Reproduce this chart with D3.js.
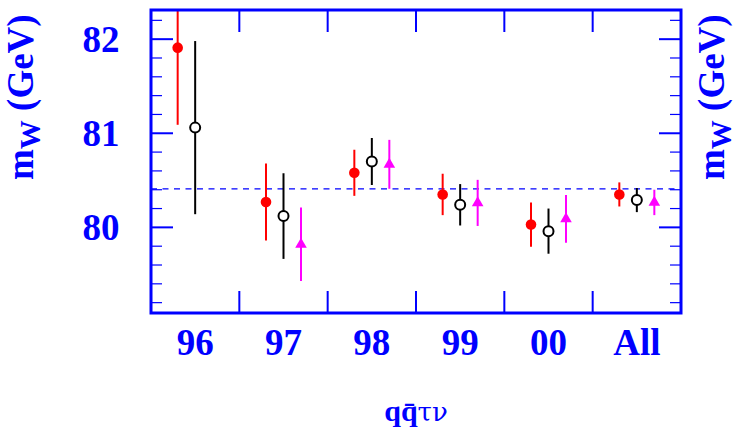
<!DOCTYPE html>
<html>
<head>
<meta charset="utf-8">
<script src="https://cdn.jsdelivr.net/npm/d3@7"></script>
<style>
  html, body { margin: 0; padding: 0; background: #fff; }
  svg { display: block; }
  text { font-family: "Liberation Serif", "Times New Roman", serif; fill: #0000ff; }
</style>
</head>
<body>
<svg id="chart" width="741" height="437"></svg>
<script>
// ---- data ----
const categories = ["96", "97", "98", "99", "00", "All"];
const redValues   = [81.91, 80.27, 80.58, 80.35, 80.03, 80.35];
const redErrors   = [0.82, 0.41, 0.245, 0.22, 0.235, 0.128];
const blackValues = [81.06, 80.12, 80.70, 80.24, 79.96, 80.29];
const blackErrors = [0.92, 0.455, 0.25, 0.22, 0.24, 0.128];
const magentaValues = [null, 79.82, 80.67, 80.26, 80.09, 80.265];
const magentaErrors = [null, 0.39, 0.26, 0.245, 0.253, 0.135];
const referenceValue = 80.41;
const yTickLabels = [80, 81, 82];
const xTitle = "qq\u0304\u03c4\u03bd";

// ---- layout ----
const svg = d3.select("#chart");
const L = 151, R = 681, T = 10, B = 313;
const blue = "#0000ff";

const x = d3.scaleBand().domain(categories).range([L, R]).padding(0);
const y = d3.scaleLinear().domain([79.09, 82.31]).range([B, T]);
const bw = x.bandwidth();
const cx = c => x(c) + bw / 2;

svg.append("clipPath").attr("id", "clip")
  .append("rect").attr("x", L).attr("y", T).attr("width", R - L).attr("height", B - T);

// minor / major y ticks (left & right, inward)
const minorTicks = d3.range(79.2, 82.31, 0.2).map(v => +v.toFixed(1));
const tickG = svg.append("g");
minorTicks.forEach(v => {
  const major = Math.abs(v - Math.round(v)) < 1e-6;
  const len = major ? 22 : 11;
  const w = major ? 2 : 1.2;
  const yy = y(v);
  tickG.append("line").attr("x1", L).attr("x2", L + len).attr("y1", yy).attr("y2", yy)
    .attr("stroke", blue).attr("stroke-width", w);
  tickG.append("line").attr("x1", R).attr("x2", R - len).attr("y1", yy).attr("y2", yy)
    .attr("stroke", blue).attr("stroke-width", w);
});
// x ticks at category boundaries (top & bottom, inward)
categories.slice(1).forEach(c => {
  const xx = x(c);
  tickG.append("line").attr("x1", xx).attr("x2", xx).attr("y1", B).attr("y2", B - 22)
    .attr("stroke", blue).attr("stroke-width", 2);
  tickG.append("line").attr("x1", xx).attr("x2", xx).attr("y1", T).attr("y2", T + 22)
    .attr("stroke", blue).attr("stroke-width", 2);
});

// reference dashed line
svg.append("line")
  .attr("x1", L).attr("x2", R).attr("y1", y(referenceValue)).attr("y2", y(referenceValue))
  .attr("stroke", blue).attr("stroke-width", 1.3).attr("stroke-dasharray", "6,5.5");

// data
const plot = svg.append("g").attr("clip-path", "url(#clip)");
function series(values, errors, offset, color, kind) {
  const pts = categories.map((c, i) => ({ c, v: values[i], e: errors[i] }))
    .filter(d => d.v != null);
  plot.selectAll(null).data(pts).enter().append("line")
    .attr("x1", d => cx(d.c) + offset).attr("x2", d => cx(d.c) + offset)
    .attr("y1", d => y(d.v + d.e)).attr("y2", d => y(d.v - d.e))
    .attr("stroke", color).attr("stroke-width", 2);
  if (kind === "filled") {
    plot.selectAll(null).data(pts).enter().append("circle")
      .attr("cx", d => cx(d.c) + offset).attr("cy", d => y(d.v)).attr("r", 5.3)
      .attr("fill", color);
  } else if (kind === "open") {
    plot.selectAll(null).data(pts).enter().append("circle")
      .attr("cx", d => cx(d.c) + offset).attr("cy", d => y(d.v)).attr("r", 5)
      .attr("fill", "#fff").attr("stroke", color).attr("stroke-width", 2);
  } else {
    const sym = d3.symbol().type(d3.symbolTriangle).size(58);
    plot.selectAll(null).data(pts).enter().append("path")
      .attr("d", sym)
      .attr("transform", d => `translate(${cx(d.c) + offset},${y(d.v)})`)
      .attr("fill", color);
  }
}
series(redValues, redErrors, -17.5, "#ff0000", "filled");
series(blackValues, blackErrors, 0, "#000000", "open");
series(magentaValues, magentaErrors, 17.5, "#ff00ff", "triangle");

// frame
svg.append("rect").attr("x", L).attr("y", T).attr("width", R - L).attr("height", B - T)
  .attr("fill", "none").attr("stroke", blue).attr("stroke-width", 3);

// y tick labels
svg.selectAll(null).data(yTickLabels).enter().append("text")
  .attr("x", 119.5).attr("y", d => y(d) + 12.5)
  .attr("text-anchor", "end").attr("font-weight", "bold").attr("font-size", 37)
  .text(d => d);

// x tick labels
svg.selectAll(null).data(categories).enter().append("text")
  .attr("x", d => cx(d)).attr("y", 355)
  .attr("text-anchor", "middle").attr("font-weight", "bold").attr("font-size", 37)
  .text(d => d);

// x title
const xt = svg.append("text").attr("x", (L + R) / 2).attr("y", 421)
  .attr("text-anchor", "middle").attr("font-size", 30);
xt.append("tspan").attr("font-weight", "bold").text(xTitle.slice(0, 3));
xt.append("tspan").style("font-family", "'DejaVu Serif', serif").attr("font-size", 26)
  .text(xTitle.slice(3));

// y titles (left and right)
function yTitle(xPos) {
  const t = svg.append("text").attr("transform", `translate(${xPos},180) rotate(-90)`)
    .attr("font-weight", "bold").attr("font-size", 37);
  t.append("tspan").text("m");
  t.append("tspan").attr("font-size", 29).attr("dy", 7).text("W");
  t.append("tspan").attr("dy", -7).text(" (GeV)");
}
yTitle(33);
yTitle(724);
</script>
</body>
</html>
